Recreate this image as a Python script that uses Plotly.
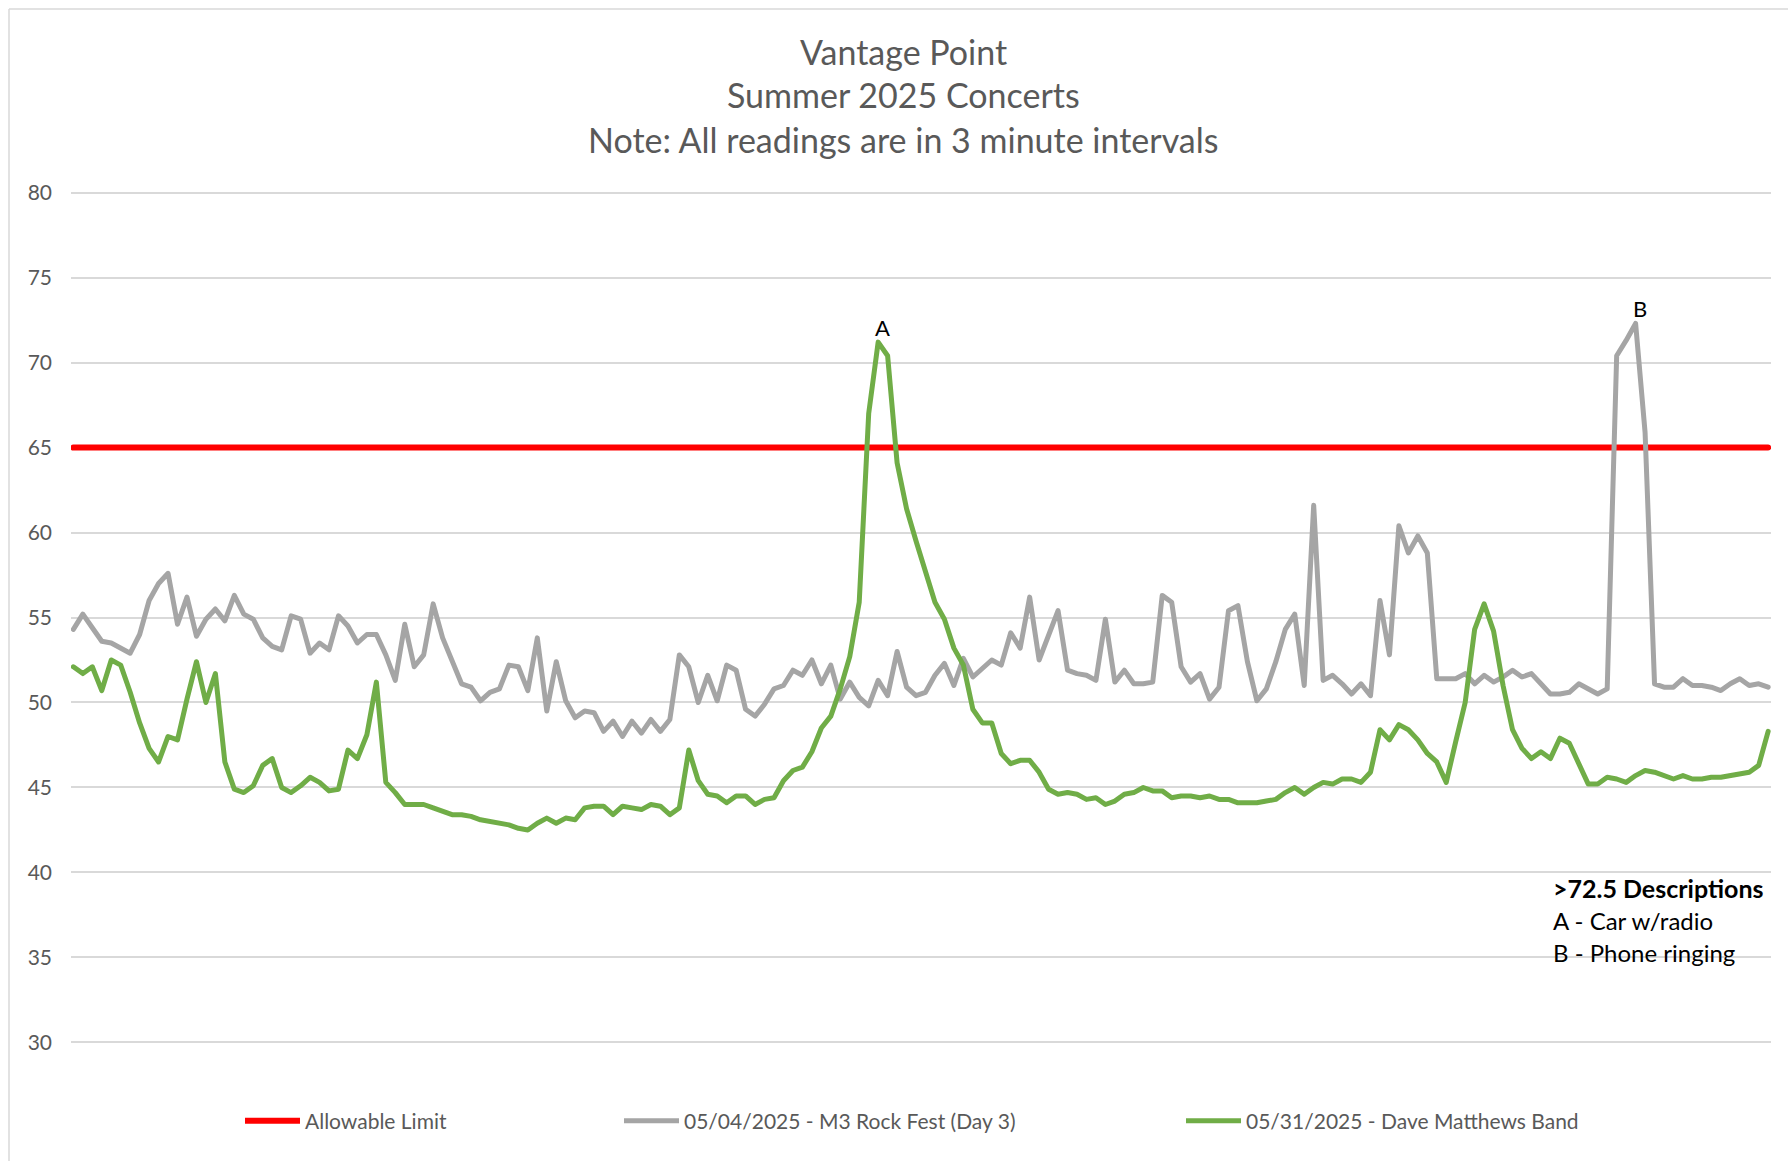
import plotly.graph_objects as go

# readings are taken every 3 minutes (180 readings per concert)
reading = list(range(1, 181))

allowable_limit = 65

m3_rock_fest = [
    54.3, 55.2, 54.4, 53.6, 53.5, 53.2, 52.9, 54.0, 56.0, 57.0,
    57.6, 54.6, 56.2, 53.9, 54.9, 55.5, 54.8, 56.3, 55.2, 54.9,
    53.8, 53.3, 53.1, 55.1, 54.9, 52.9, 53.5, 53.1, 55.1, 54.5,
    53.5, 54.0, 54.0, 52.8, 51.3, 54.6, 52.1, 52.8, 55.8, 53.8,
    52.5, 51.1, 50.9, 50.1, 50.6, 50.8, 52.2, 52.1, 50.7, 53.8,
    49.5, 52.4, 50.1, 49.1, 49.5, 49.4, 48.3, 48.9, 48.0, 48.9,
    48.2, 49.0, 48.3, 49.0, 52.8, 52.1, 50.0, 51.6, 50.1, 52.2,
    51.9, 49.6, 49.2, 49.9, 50.8, 51.0, 51.9, 51.6, 52.5, 51.1,
    52.2, 50.2, 51.2, 50.3, 49.8, 51.3, 50.4, 53.0, 50.9, 50.4,
    50.6, 51.6, 52.3, 51.0, 52.6, 51.5, 52.0, 52.5, 52.2, 54.1,
    53.2, 56.2, 52.5, 53.9, 55.4, 51.9, 51.7, 51.6, 51.3, 54.9,
    51.2, 51.9, 51.1, 51.1, 51.2, 56.3, 55.9, 52.1, 51.2, 51.7,
    50.2, 50.9, 55.4, 55.7, 52.4, 50.1, 50.8, 52.4, 54.3, 55.2,
    51.0, 61.6, 51.3, 51.6, 51.1, 50.5, 51.1, 50.4, 56.0, 52.8,
    60.4, 58.8, 59.8, 58.8, 51.4, 51.4, 51.4, 51.7, 51.1, 51.6,
    51.2, 51.5, 51.9, 51.5, 51.7, 51.1, 50.5, 50.5, 50.6, 51.1,
    50.8, 50.5, 50.8, 70.4, 71.3, 72.3, 65.9, 51.1, 50.9, 50.9,
    51.4, 51.0, 51.0, 50.9, 50.7, 51.1, 51.4, 51.0, 51.1, 50.9,
]

dave_matthews = [
    52.1, 51.7, 52.1, 50.7, 52.5, 52.2, 50.6, 48.8, 47.3, 46.5,
    48.0, 47.8, 50.2, 52.4, 50.0, 51.7, 46.5, 44.9, 44.7, 45.1,
    46.3, 46.7, 45.0, 44.7, 45.1, 45.6, 45.3, 44.8, 44.9, 47.2,
    46.7, 48.1, 51.2, 45.3, 44.7, 44.0, 44.0, 44.0, 43.8, 43.6,
    43.4, 43.4, 43.3, 43.1, 43.0, 42.9, 42.8, 42.6, 42.5, 42.9,
    43.2, 42.9, 43.2, 43.1, 43.8, 43.9, 43.9, 43.4, 43.9, 43.8,
    43.7, 44.0, 43.9, 43.4, 43.8, 47.2, 45.4, 44.6, 44.5, 44.1,
    44.5, 44.5, 44.0, 44.3, 44.4, 45.4, 46.0, 46.2, 47.1, 48.5,
    49.2, 50.8, 52.7, 55.9, 67.0, 71.2, 70.4, 64.1, 61.4, 59.5,
    57.6, 55.9, 54.9, 53.2, 52.2, 49.6, 48.8, 48.8, 47.0, 46.4,
    46.6, 46.6, 45.9, 44.9, 44.6, 44.7, 44.6, 44.3, 44.4, 44.0,
    44.2, 44.6, 44.7, 45.0, 44.8, 44.8, 44.4, 44.5, 44.5, 44.4,
    44.5, 44.3, 44.3, 44.1, 44.1, 44.1, 44.2, 44.3, 44.7, 45.0,
    44.6, 45.0, 45.3, 45.2, 45.5, 45.5, 45.3, 45.9, 48.4, 47.8,
    48.7, 48.4, 47.8, 47.0, 46.5, 45.3, 47.7, 50.0, 54.3, 55.8,
    54.2, 51.0, 48.4, 47.3, 46.7, 47.1, 46.7, 47.9, 47.6, 46.4,
    45.2, 45.2, 45.6, 45.5, 45.3, 45.7, 46.0, 45.9, 45.7, 45.5,
    45.7, 45.5, 45.5, 45.6, 45.6, 45.7, 45.8, 45.9, 46.3, 48.3,
]

title_lines = ["Vantage Point", "Summer 2025 Concerts", "Note: All readings are in 3 minute intervals"]
desc_lines = ["<b>>72.5 Descriptions</b>", "A - Car w/radio", "B - Phone ringing"]
desc_sizes = [25, 24, 24]

W, H = 1788, 1161
# y range padded a hair so the 30 and 80 gridlines are still drawn
ML, MR, MT, MB = 71, 17, 190, 116
PW, PH = W - ML - MR, H - MT - MB
FONT = "Lato"
GREY_TXT = "#595959"


def px_x(px):
    return (px - ML) / PW


def px_y(py):
    return (H - MB - py) / PH


fig = go.Figure()
fig.add_trace(go.Scatter(x=reading, y=[allowable_limit] * len(reading), mode="lines",
                         name="Allowable Limit", line=dict(color="#FF0000", width=6),
                         legend="legend"))
fig.add_trace(go.Scatter(x=reading, y=m3_rock_fest, mode="lines",
                         name="05/04/2025 - M3 Rock Fest (Day 3)",
                         line=dict(color="#A5A5A5", width=5), legend="legend2"))
fig.add_trace(go.Scatter(x=reading, y=dave_matthews, mode="lines",
                         name="05/31/2025 - Dave Matthews Band",
                         line=dict(color="#70AD47", width=5), legend="legend3"))

annotations = []
for i, line in enumerate(title_lines):
    annotations.append(dict(text=line, x=px_x(903), y=px_y(51 + 44 * i), xref="paper", yref="paper",
                            xanchor="center", yanchor="middle", showarrow=False,
                            font=dict(family=FONT, size=34, color=GREY_TXT)))

# peak labels
for label, series in [("A", dave_matthews), ("B", m3_rock_fest)]:
    k = series.index(max(series))
    annotations.append(dict(text=label, x=reading[k], y=series[k], xref="x", yref="y",
                            xanchor="center", yanchor="middle", yshift=15, xshift=4,
                            showarrow=False, font=dict(family=FONT, size=22, color="#000000")))

for i, line in enumerate(desc_lines):
    annotations.append(dict(text=line, x=px_x(1551), y=px_y(888 + 32 * i), xref="paper", yref="paper",
                            xanchor="left", yanchor="middle", showarrow=False,
                            font=dict(family=FONT, size=desc_sizes[i], color="#000000")))

legend_base = dict(orientation="h", yanchor="middle", y=px_y(1121), xanchor="left",
                   bgcolor="rgba(0,0,0,0)", font=dict(family=FONT, size=21, color=GREY_TXT),
                   itemwidth=55)

fig.update_layout(
    width=W, height=H,
    margin=dict(l=ML, r=MR, t=MT, b=MB),
    paper_bgcolor="white", plot_bgcolor="white",
    font=dict(family=FONT, color=GREY_TXT),
    showlegend=True,
    legend=dict(legend_base, x=px_x(240)),
    legend2=dict(legend_base, x=px_x(619)),
    legend3=dict(legend_base, x=px_x(1181)),
    annotations=annotations,
    shapes=[
        dict(type="line", xref="paper", yref="paper", x0=px_x(9), x1=px_x(9),
             y0=px_y(9), y1=px_y(1200), line=dict(color="#D9D9D9", width=1.5)),
        dict(type="line", xref="paper", yref="paper", x0=px_x(9), x1=px_x(1850),
             y0=px_y(9), y1=px_y(9), line=dict(color="#D9D9D9", width=1.5)),
    ],
)
fig.update_xaxes(range=[0.75, 180.3], showticklabels=False, showgrid=False,
                 zeroline=False, showline=False, ticks="")
fig.update_yaxes(range=[29.85, 80.15], tickvals=list(range(30, 81, 5)), showgrid=True,
                 gridcolor="#D9D9D9", gridwidth=2,
                 zeroline=False, showline=False, ticks="", ticklabelstandoff=18,
                 tickfont=dict(family=FONT, size=21, color=GREY_TXT))

post = ("document.body.style.margin='0';"
        "var s=document.createElement('style');"
        "s.innerHTML='.scatterlayer .js-line{stroke-linejoin:round !important;stroke-linecap:round !important;}';"
        "document.head.appendChild(s);")
fig.write_html("out.html", post_script=post, config={"displayModeBar": False})
